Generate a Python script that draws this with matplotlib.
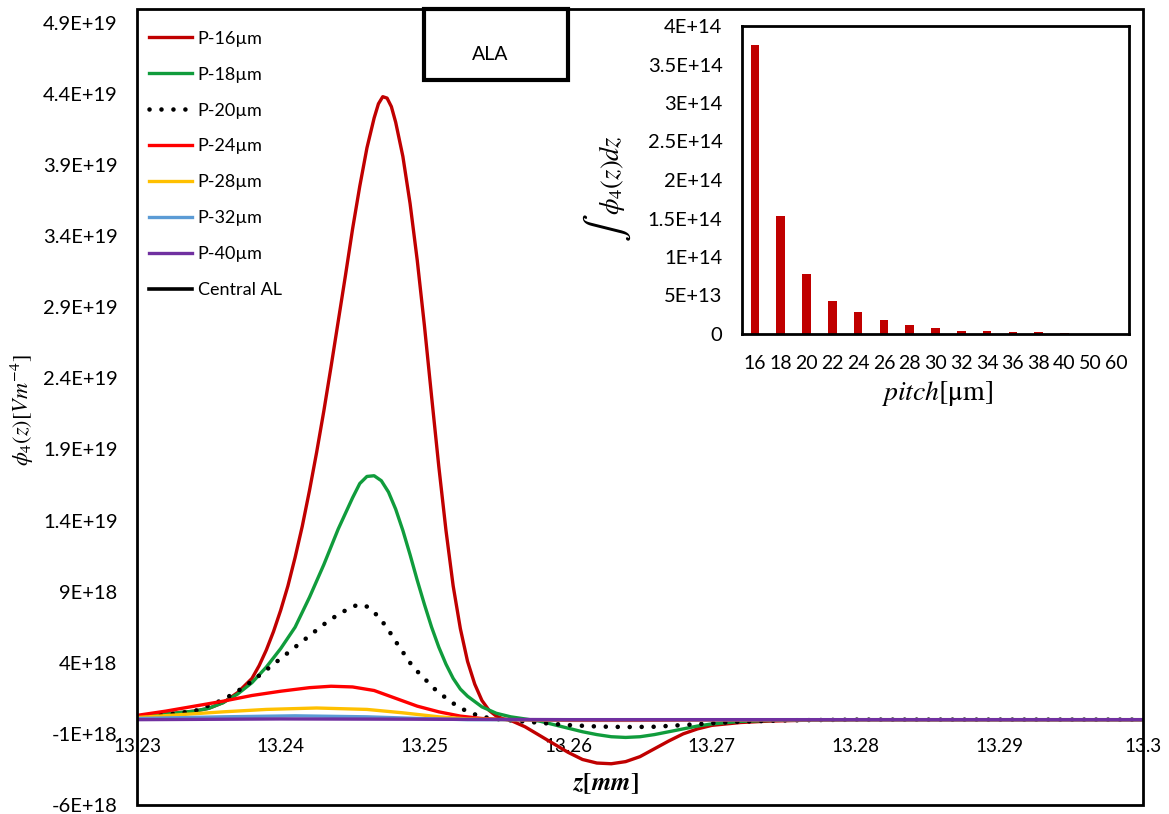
import numpy as np
import matplotlib
matplotlib.use("Agg")
import matplotlib.pyplot as plt
from matplotlib.patches import Rectangle

plt.rcParams['font.family'] = ['Lato', 'DejaVu Sans']
plt.rcParams['mathtext.fontset'] = 'stix'

# ---- main chart data: z [mm] and phi_4 [1e18 V m^-4] ----
z16 = [13.230, 13.232, 13.234, 13.235, 13.236, 13.237, 13.238, 13.2385, 13.239, 13.2395,
       13.240, 13.2405, 13.241, 13.2415, 13.242, 13.2425, 13.243, 13.2435, 13.244, 13.2445,
       13.245, 13.2455, 13.246, 13.2465, 13.2468, 13.2471, 13.2474, 13.2477, 13.248, 13.2485,
       13.249, 13.2495, 13.250, 13.2505, 13.251, 13.2515, 13.252, 13.2525, 13.253, 13.2535,
       13.254, 13.2545, 13.255, 13.2555, 13.256, 13.257, 13.258, 13.259, 13.260, 13.261,
       13.262, 13.263, 13.264, 13.265, 13.266, 13.267, 13.268, 13.269, 13.270, 13.272,
       13.274, 13.277, 13.280, 13.290, 13.300]
p16 = [0.25, 0.40, 0.60, 0.80, 1.20, 1.90, 2.9, 3.8, 4.9, 6.2,
       7.7, 9.4, 11.4, 13.6, 16.1, 18.8, 21.7, 24.8, 28.0, 31.2,
       34.5, 37.5, 40.2, 42.3, 43.3, 43.8, 43.7, 43.1, 42.0, 39.6,
       36.3, 32.3, 27.7, 22.7, 17.8, 13.3, 9.4, 6.4, 4.1, 2.5,
       1.35, 0.65, 0.25, 0.05, -0.05, -0.5, -1.1, -1.7, -2.3, -2.8,
       -3.05, -3.1, -2.95, -2.6, -2.05, -1.5, -1.0, -0.65, -0.4, -0.2,
       -0.1, -0.03, 0.0, 0.0, 0.0]

z18 = [13.230, 13.232, 13.234, 13.235, 13.236, 13.237, 13.238, 13.239, 13.240, 13.241,
       13.242, 13.243, 13.244, 13.245, 13.2455, 13.246, 13.2465, 13.247, 13.2475, 13.248,
       13.2485, 13.249, 13.2495, 13.250, 13.2505, 13.251, 13.2515, 13.252, 13.2525, 13.253,
       13.254, 13.255, 13.256, 13.257, 13.258, 13.259, 13.260, 13.261, 13.262, 13.263,
       13.264, 13.265, 13.266, 13.267, 13.268, 13.269, 13.270, 13.272, 13.275, 13.280,
       13.290, 13.300]
p18 = [0.25, 0.40, 0.60, 0.80, 1.20, 1.80, 2.60, 3.70, 5.00, 6.50,
       8.6, 10.9, 13.4, 15.6, 16.6, 17.1, 17.15, 16.8, 16.0, 14.8,
       13.3, 11.6, 9.8, 8.1, 6.5, 5.1, 3.9, 2.9, 2.15, 1.65,
       0.9, 0.45, 0.2, 0.05, -0.1, -0.35, -0.6, -0.85, -1.05, -1.2,
       -1.25, -1.2, -1.05, -0.85, -0.65, -0.45, -0.3, -0.12, -0.03, 0.0,
       0.0, 0.0]

z20 = [13.230, 13.232, 13.234, 13.236, 13.237, 13.238, 13.239, 13.240, 13.241, 13.242,
       13.243, 13.244, 13.245, 13.2455, 13.246, 13.2465, 13.247, 13.2475, 13.248, 13.2485,
       13.249, 13.2495, 13.250, 13.2505, 13.251, 13.252, 13.253, 13.254, 13.255, 13.256,
       13.258, 13.260, 13.262, 13.264, 13.266, 13.268, 13.270, 13.272, 13.275, 13.280,
       13.290, 13.300]
p20 = [0.2, 0.35, 0.6, 1.4, 2.0, 2.7, 3.5, 4.3, 5.1, 5.9,
       6.7, 7.4, 7.95, 8.1, 7.95, 7.55, 7.0, 6.3, 5.5, 4.75,
       4.0, 3.4, 2.9, 2.35, 1.9, 1.15, 0.55, 0.2, 0.05, -0.05,
       -0.22, -0.38, -0.48, -0.52, -0.5, -0.38, -0.25, -0.14, -0.05, 0.0,
       0.0, 0.0]

z24 = [13.230, 13.232, 13.234, 13.236, 13.238, 13.240, 13.242, 13.2435, 13.245, 13.2465,
       13.248, 13.2495, 13.251, 13.2525, 13.254, 13.256, 13.260, 13.265, 13.270, 13.280, 13.300]
p24 = [0.3, 0.6, 0.95, 1.3, 1.7, 2.0, 2.25, 2.35, 2.3, 2.05,
       1.5, 0.95, 0.55, 0.25, 0.08, 0.0, -0.05, -0.05, -0.02, 0.0, 0.0]

z28 = [13.230, 13.233, 13.236, 13.239, 13.2425, 13.246, 13.2485, 13.251, 13.253, 13.256, 13.300]
p28 = [0.15, 0.35, 0.55, 0.72, 0.82, 0.72, 0.48, 0.2, 0.05, 0.0, 0.0]

z32 = [13.230, 13.236, 13.241, 13.246, 13.250, 13.253, 13.300]
p32 = [0.08, 0.2, 0.27, 0.2, 0.07, 0.0, 0.0]

z40 = [13.230, 13.240, 13.250, 13.260, 13.300]
p40 = [0.0, 0.05, 0.03, 0.0, 0.0]

# ---- inset data ----
pitch = ['16', '18', '20', '22', '24', '26', '28', '30', '32', '34', '36', '38', '40', '50', '60']
integral = [3.75e14, 1.53e14, 0.78e14, 0.43e14, 0.28e14, 0.18e14, 0.12e14, 0.078e14,
            0.045e14, 0.035e14, 0.026e14, 0.02e14, 0.017e14, 0.006e14, 0.004e14]


def excel_fmt(v, pos=None):
    if abs(v) < 1:
        return '0'
    mant, exp = f'{v:.1E}'.split('E')
    mant = mant.rstrip('0').rstrip('.')
    return f'{mant}E+{int(exp):02d}'


W, H = 1169, 814
fig = plt.figure(figsize=(W / 100, H / 100), dpi=100)
ax = fig.add_axes([137 / W, 1 - 805 / H, (1143 - 137) / W, (805 - 8.5) / H])

E = 1e18
series = [
    (z16, p16, 'P-16µm', '#C00000', '-'),
    (z18, p18, 'P-18µm', '#109C3C', '-'),
    (z20, p20, 'P-20µm', 'black', (0, (0.01, 2.6))),
    (z24, p24, 'P-24µm', '#FF0000', '-'),
    (z28, p28, 'P-28µm', '#FFC000', '-'),
    (z32, p32, 'P-32µm', '#5B9BD5', '-'),
    (z40, p40, 'P-40µm', '#7030A0', '-'),
]
for zz, pp, lab, col, ls in series:
    if lab == 'P-20µm':
        ax.plot(zz, np.array(pp) * E, color=col, lw=3.3, ls=ls, dash_capstyle='round', label=lab)
    else:
        ax.plot(zz, np.array(pp) * E, color=col, lw=2.4, ls=ls, label=lab,
                solid_joinstyle='round')
ax.plot([], [], color='black', lw=2.6, label='Central AL')

ax.set_xlim(13.23, 13.30)
ax.set_ylim(-6e18, 5.0e19)
ax.set_xticks([13.23, 13.24, 13.25, 13.26, 13.27, 13.28, 13.29, 13.30])
ax.set_xticklabels(['13.23', '13.24', '13.25', '13.26', '13.27', '13.28', '13.29', '13.3'])
ax.set_yticks(np.arange(-6e18, 5.0e19, 5e18))
ax.yaxis.set_major_formatter(plt.FuncFormatter(excel_fmt))
ax.spines['bottom'].set_position(('data', 0))
for s in ax.spines.values():
    s.set_visible(False)
ax.tick_params(axis='x', length=0, pad=13, labelsize=13.5)
ax.tick_params(axis='y', length=0, pad=14, labelsize=14.5)
ax.add_patch(Rectangle((0, 0), 1, 1, transform=ax.transAxes, fill=False,
                       lw=2, edgecolor='black', clip_on=False, zorder=10))

ax.legend(loc='upper left', bbox_to_anchor=(0.012, 0.972), frameon=False, fontsize=13,
          handlelength=2.4, handletextpad=0.3, labelspacing=1.1, borderpad=0, borderaxespad=0)

fig.text(22 / W, 1 - 410 / H, r'$\phi_4(z)[Vm^{-4}]$', rotation=90, ha='center', va='center', fontsize=16)
fig.text(605 / W, 1 - 784 / H, r'$\mathbfit{z}\mathbf{[}\mathbfit{mm}\mathbf{]}$',
         ha='center', va='center', fontsize=18)

box = Rectangle((424 / W, 1 - 80 / H), 144 / W, 71.5 / H, transform=fig.transFigure,
                facecolor='white', edgecolor='black', lw=3, zorder=5)
fig.add_artist(box)
fig.text(490 / W, 1 - 55 / H, 'ALA', ha='center', va='center', fontsize=14, zorder=6)

# ---- inset bar chart ----
ax2 = fig.add_axes([742 / W, 1 - 334 / H, 387 / W, 308 / H])
ax2.set_facecolor('white')
ax2.bar(range(len(pitch)), integral, width=0.33, color='#C00000')
ax2.set_xlim(-0.5, len(pitch) - 0.5)
ax2.set_ylim(0, 4e14)
ax2.set_xticks(range(len(pitch)))
ax2.set_xticklabels(pitch)
ax2.set_yticks(np.arange(0, 4.01e14, 5e13))
ax2.yaxis.set_major_formatter(plt.FuncFormatter(excel_fmt))
ax2.tick_params(axis='x', length=0, pad=15, labelsize=14)
ax2.tick_params(axis='y', length=0, pad=14, labelsize=14.5)
for s in ax2.spines.values():
    s.set_linewidth(2)
    s.set_color('black')
fig.text(607 / W, 1 - 228 / H, r'$\int$', rotation=90, ha='center', va='center', fontsize=30)
fig.text(612 / W, 1 - 175 / H, r'$\phi_4(z)dz$', rotation=90, ha='center', va='center', fontsize=19)
fig.text(937 / W, 1 - 393 / H, r'$pitch[\mathrm{\mu m}]$', ha='center', va='center', fontsize=20)

fig.savefig('out.png', dpi=100)
